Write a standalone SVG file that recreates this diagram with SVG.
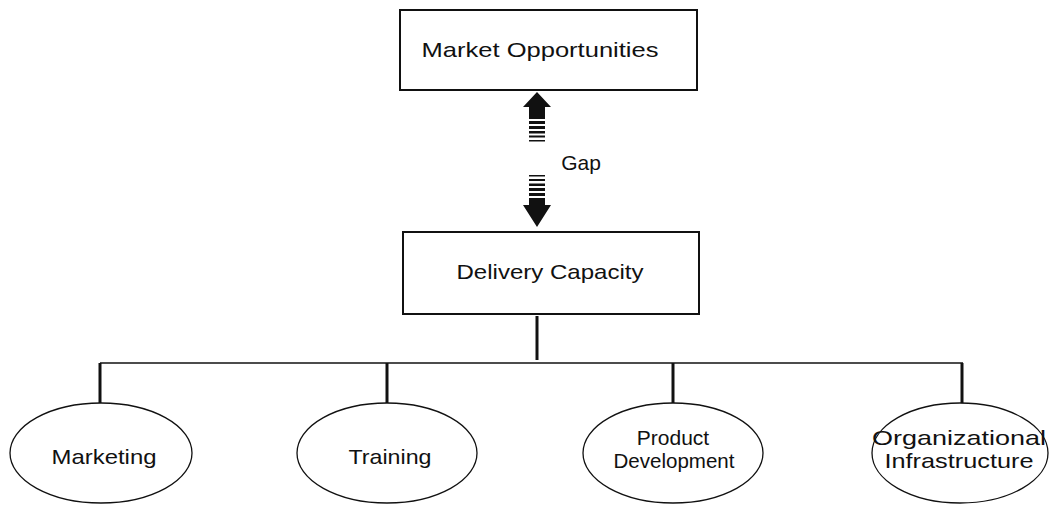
<svg xmlns="http://www.w3.org/2000/svg" width="1051" height="506" viewBox="0 0 1051 506">
  <style>
    .box { fill: #ffffff; stroke: #111111; stroke-width: 2; }
    .oval { fill: #ffffff; stroke: #111111; stroke-width: 1.3; }
    .lbl { font-family: "Liberation Sans", Arial, sans-serif; font-size: 21px; fill: #111111; text-anchor: middle; }
    .hline { stroke: #111111; stroke-width: 1.5; fill: none; }
    .drop { stroke: #111111; stroke-width: 3; fill: none; }
    .arrow { fill: #111111; }
  </style>
  <rect width="1051" height="506" fill="#ffffff"/>

  <g id="market-opportunities">
    <rect class="box" x="400" y="10" width="297" height="80"/>
    <text class="lbl" x="540" y="57" textLength="237" lengthAdjust="spacingAndGlyphs">Market Opportunities</text>
  </g>

  <g id="delivery-capacity">
    <rect class="box" x="403" y="232" width="296" height="82"/>
    <text class="lbl" x="550" y="279" textLength="187" lengthAdjust="spacingAndGlyphs">Delivery Capacity</text>
  </g>

  <g id="gap">
    <!-- upward arrow with striped tail -->
    <polygon class="arrow" points="537,92 551,107 545,107 545,119 529,119 529,107 523,107"/>
    <rect class="arrow" x="529" y="121" width="16" height="3"/>
    <rect class="arrow" x="529" y="126" width="16" height="3"/>
    <rect class="arrow" x="529" y="131" width="16" height="2.5"/>
    <rect class="arrow" x="529" y="135.5" width="16" height="2"/>
    <rect class="arrow" x="529" y="140" width="16" height="1.5"/>
    <text class="lbl" x="581" y="170">Gap</text>
    <!-- downward arrow with striped tail -->
    <rect class="arrow" x="529" y="175" width="16" height="1.5"/>
    <rect class="arrow" x="529" y="179" width="16" height="2"/>
    <rect class="arrow" x="529" y="183.5" width="16" height="2.5"/>
    <rect class="arrow" x="529" y="188" width="16" height="3"/>
    <rect class="arrow" x="529" y="193" width="16" height="3"/>
    <polygon class="arrow" points="529,198 545,198 545,205 551,205 537,227 523,205 529,205"/>
  </g>

  <g id="connectors">
    <line class="drop" x1="537" y1="316" x2="537" y2="360"/>
    <line class="hline" x1="100" y1="363" x2="963" y2="363"/>
    <line class="drop" x1="100" y1="363" x2="100" y2="403"/>
    <line class="drop" x1="387" y1="363" x2="387" y2="403"/>
    <line class="drop" x1="673" y1="363" x2="673" y2="403"/>
    <line class="drop" x1="962" y1="363" x2="962" y2="403"/>
  </g>

  <g id="marketing">
    <ellipse class="oval" cx="101" cy="453" rx="91" ry="50"/>
    <text class="lbl" x="104" y="464" textLength="105" lengthAdjust="spacingAndGlyphs">Marketing</text>
  </g>

  <g id="training">
    <ellipse class="oval" cx="387" cy="453" rx="90" ry="50"/>
    <text class="lbl" x="390" y="464" textLength="83" lengthAdjust="spacingAndGlyphs">Training</text>
  </g>

  <g id="product-development">
    <ellipse class="oval" cx="673" cy="453" rx="90" ry="50"/>
    <text class="lbl" x="673" y="445">Product</text>
    <text class="lbl" x="674" y="468" textLength="121" lengthAdjust="spacingAndGlyphs">Development</text>
  </g>

  <g id="organizational-infrastructure">
    <ellipse class="oval" cx="960" cy="453" rx="88" ry="50"/>
    <text class="lbl" x="959" y="445" textLength="174" lengthAdjust="spacingAndGlyphs">Organizational</text>
    <text class="lbl" x="959" y="468" textLength="149" lengthAdjust="spacingAndGlyphs">Infrastructure</text>
  </g>
</svg>
